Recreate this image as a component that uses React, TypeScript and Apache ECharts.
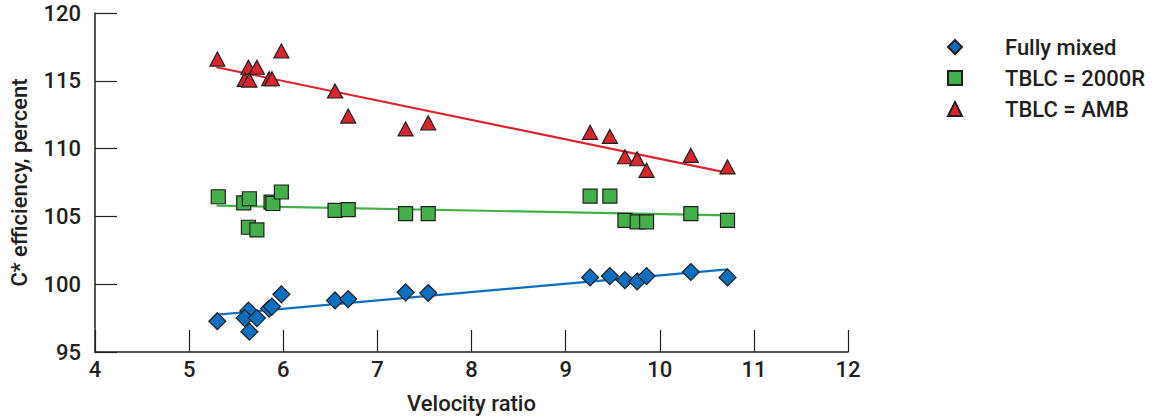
import React, { useEffect, useRef } from "react";
import * as echarts from "echarts";

const xTicksMin = 4;
const xTicksMax = 12;
const yTicksMin = 95;
const yTicksMax = 120;

const seriesNames = ["Fully mixed", "TBLC = 2000R", "TBLC = AMB"];

const fullyX = [5.30, 5.63, 5.59, 5.72, 5.64, 5.85, 5.88, 5.98, 6.55, 6.69, 7.30, 7.54, 9.26, 9.47, 9.63, 9.76, 9.86, 10.33, 10.72];
const fullyY = [97.27, 98.05, 97.5, 97.5, 96.5, 98.2, 98.35, 99.25, 98.8, 98.9, 99.4, 99.35, 100.5, 100.6, 100.3, 100.2, 100.6, 100.9, 100.5];

const r2000X = [5.31, 5.58, 5.64, 5.63, 5.72, 5.87, 5.89, 5.98, 6.55, 6.69, 7.30, 7.54, 9.26, 9.47, 9.63, 9.76, 9.86, 10.33, 10.72];
const r2000Y = [106.45, 106.0, 106.3, 104.2, 104.0, 106.05, 105.95, 106.8, 105.45, 105.5, 105.2, 105.2, 106.5, 106.5, 104.7, 104.6, 104.6, 105.2, 104.7];

const ambX = [5.30, 5.63, 5.72, 5.98, 5.59, 5.64, 5.85, 5.88, 6.55, 6.69, 7.30, 7.54, 9.26, 9.47, 9.63, 9.76, 9.86, 10.33, 10.72];
const ambY = [116.6, 116.0, 116.0, 117.2, 115.1, 115.05, 115.15, 115.15, 114.25, 112.4, 111.45, 111.9, 111.2, 110.9, 109.4, 109.25, 108.4, 109.5, 108.65];

const fullyTrend = [[5.30, 97.75], [10.72, 101.1]];
const r2000Trend = [[5.29, 105.8], [10.72, 105.07]];
const ambTrend = [[5.29, 116.0], [10.71, 108.23]];

const BLUE = "#0a6fbf";
const GREEN = "#44b049";
const RED = "#d9262e";
const INK = "#231f20";
const FONT = "Roboto";
const WEIGHT = 500;
const FS = 22;

const zip = (xs: number[], ys: number[]) => xs.map((x, i) => [x, ys[i]]);

export default function App() {
  const ref = useRef<HTMLDivElement>(null);
  useEffect(() => {
    if (!ref.current) return;
    const chart = echarts.init(ref.current, null, { renderer: "svg" });
    const markerBorder = { borderColor: INK, borderWidth: 1.2 };
    const txt = { fontFamily: FONT, fontWeight: WEIGHT, fontSize: FS, color: INK };
    chart.setOption({
      animation: false,
      backgroundColor: "#ffffff",
      textStyle: { fontFamily: FONT },
      grid: { left: 95, top: 13, width: 753, height: 342 },
      legend: {
        orient: "vertical",
        left: 947,
        top: 36,
        padding: 0,
        itemWidth: 14,
        itemHeight: 14,
        itemGap: 9,
        data: [
          { name: seriesNames[0], icon: "diamond" },
          { name: seriesNames[1], icon: "rect" },
          { name: seriesNames[2], icon: "triangle" },
        ],
        textStyle: {
          ...txt,
          lineHeight: 18,
          padding: [0, 0, 0, 38],
        },
        selectedMode: false,
      },
      xAxis: {
        type: "value",
        min: xTicksMin,
        max: xTicksMax,
        interval: 1,
        name: "Velocity ratio",
        nameLocation: "middle",
        nameGap: 40,
        nameTextStyle: txt,
        axisLine: { show: true, onZero: false, lineStyle: { color: INK, width: 1.5 } },
        axisTick: { show: true, inside: true, length: 22, lineStyle: { color: INK, width: 1.2 } },
        axisLabel: { ...txt, margin: 6 },
        splitLine: { show: false },
      },
      yAxis: {
        type: "value",
        min: yTicksMin,
        max: yTicksMax,
        interval: 5,
        name: "C* efficiency, percent",
        nameLocation: "middle",
        nameGap: 65,
        nameTextStyle: txt,
        axisLine: { show: true, onZero: false, lineStyle: { color: INK, width: 1.5 } },
        axisTick: { show: true, inside: true, length: 22, lineStyle: { color: INK, width: 1.2 } },
        axisLabel: { ...txt, margin: 14 },
        splitLine: { show: false },
      },
      series: [
        {
          type: "line",
          data: fullyTrend,
          showSymbol: false,
          lineStyle: { color: BLUE, width: 2.2 },
          silent: true,
          z: 1,
        },
        {
          type: "line",
          data: r2000Trend,
          showSymbol: false,
          lineStyle: { color: GREEN, width: 2.2 },
          silent: true,
          z: 1,
        },
        {
          type: "line",
          data: ambTrend,
          showSymbol: false,
          lineStyle: { color: RED, width: 2.2 },
          silent: true,
          z: 1,
        },
        {
          name: seriesNames[0],
          type: "scatter",
          data: zip(fullyX, fullyY),
          symbol: "diamond",
          symbolSize: 17,
          itemStyle: { color: BLUE, opacity: 1, ...markerBorder },
          z: 3,
        },
        {
          name: seriesNames[1],
          type: "scatter",
          data: zip(r2000X, r2000Y),
          symbol: "rect",
          symbolSize: 14,
          itemStyle: { color: GREEN, opacity: 1, ...markerBorder },
          z: 3,
        },
        {
          name: seriesNames[2],
          type: "scatter",
          data: zip(ambX, ambY),
          symbol: "triangle",
          symbolSize: [15, 14],
          itemStyle: { color: RED, opacity: 1, ...markerBorder },
          z: 3,
        },
      ],
    });
    return () => chart.dispose();
  }, []);
  return (
    <div
      ref={ref}
      style={{ position: "fixed", left: 0, top: 0, width: 1157, height: 419 }}
    />
  );
}
